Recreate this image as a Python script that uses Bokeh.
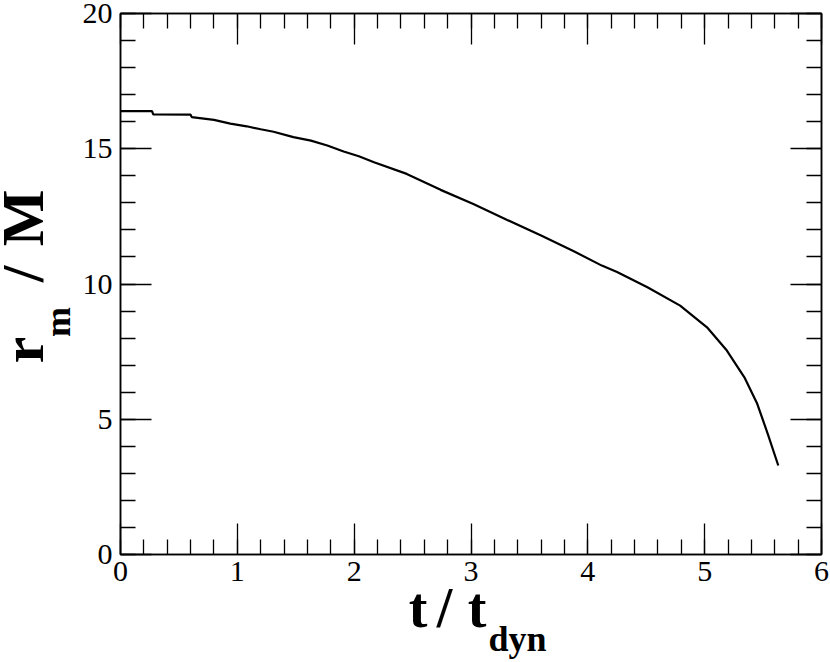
import math
from bokeh.plotting import figure
from bokeh.models import (Range1d, LinearAxis, SingleIntervalTicker, FixedTicker,
                          CustomJSTickFormatter)
from bokeh.embed import file_html
from bokeh.resources import INLINE

# data
t_vals = [0.00, 0.27, 0.28, 0.60, 0.61, 0.80, 0.94, 1.08, 1.20, 1.31, 1.48, 1.63,
          1.77, 1.91, 2.04, 2.17, 2.45, 2.74, 3.02, 3.31, 3.60, 3.88, 4.12, 4.25,
          4.51, 4.79, 5.02, 5.19, 5.34, 5.45, 5.54, 5.63]
r_vals = [16.39, 16.39, 16.27, 16.26, 16.17, 16.07, 15.93, 15.83, 15.72, 15.63, 15.43, 15.30,
          15.12, 14.90, 14.72, 14.50, 14.07, 13.48, 12.96, 12.37, 11.79, 11.21, 10.68, 10.44,
          9.88, 9.20, 8.40, 7.54, 6.55, 5.57, 4.46, 3.29]
x_ticks_interval = 1
y_ticks_interval = 5

SHIFT_X = 16
SHIFT_Y = 6
p = figure(width=830 + SHIFT_X, height=662 + SHIFT_Y, output_backend="svg", toolbar_location=None,
           x_range=Range1d(0, 6), y_range=Range1d(0, 20),
           x_axis_type=None, y_axis_type=None,
           min_border_left=120 + SHIFT_X, min_border_right=9,
           min_border_top=13 + SHIFT_Y, min_border_bottom=108)
p.styles = {"margin-left": f"-{SHIFT_X}px", "margin-top": f"-{SHIFT_Y}px"}
p.xgrid.visible = False
p.ygrid.visible = False
p.outline_line_color = "black"
p.outline_line_width = 1.5
p.background_fill_color = "white"
p.border_fill_color = "white"

TICK_FONT = "Liberation Serif"
LABEL_FONT = "Liberation Serif"

def make_axis(ticker, show_labels):
    ax = LinearAxis(ticker=ticker)
    ax.axis_line_color = "black"
    ax.axis_line_width = 1.5
    ax.major_tick_in = 31
    ax.major_tick_out = 0
    ax.minor_tick_in = 15
    ax.minor_tick_out = 0
    ax.major_tick_line_width = 1.3
    ax.minor_tick_line_width = 1.3
    ax.major_tick_line_color = "black"
    ax.minor_tick_line_color = "black"
    if show_labels:
        ax.major_label_text_font = TICK_FONT
        ax.major_label_text_font_size = "30px"
        ax.major_label_text_color = "black"
    else:
        ax.formatter = CustomJSTickFormatter(code="return ''")
        ax.major_label_standoff = 0
    return ax

def label_axis(pieces, size, standoff, orientation="horizontal"):
    """An axis with no line or ticks whose tick labels spell an axis title."""
    ticks = [pos for pos, _ in pieces]
    ax = LinearAxis(ticker=FixedTicker(ticks=ticks, minor_ticks=[]))
    ax.major_label_overrides = {pos: txt for pos, txt in pieces}
    ax.axis_line_color = None
    ax.major_tick_line_color = None
    ax.minor_tick_line_color = None
    ax.major_tick_in = 0
    ax.major_tick_out = 0
    ax.minor_tick_in = 0
    ax.minor_tick_out = 0
    ax.major_label_text_font = LABEL_FONT
    ax.major_label_text_font_style = "bold"
    ax.major_label_text_font_size = size
    ax.major_label_text_color = "black"
    ax.major_label_standoff = standoff
    ax.major_label_orientation = orientation
    return ax

xt = lambda: SingleIntervalTicker(interval=x_ticks_interval, num_minor_ticks=5)
yt = lambda: SingleIntervalTicker(interval=y_ticks_interval, num_minor_ticks=5)

bx = make_axis(xt(), True)
bx.major_label_standoff = 7
ly = make_axis(yt(), True)
ly.major_label_standoff = 8
p.add_layout(bx, "below")
p.add_layout(ly, "left")
p.add_layout(make_axis(xt(), False), "above")
p.add_layout(make_axis(yt(), False), "right")

# x axis title: t / t_dyn
p.add_layout(label_axis([(2.546, "t"), (2.773, "/"), (3.051, "t")], "56px", -7), "below")
p.add_layout(label_axis([(3.398, "dyn")], "36px", -23), "below")
# y axis title: r_m / M
p.add_layout(label_axis([(7.56, "r"), (10.37, "/"), (12.44, "M")], "60px", 23, "vertical"), "left")
p.add_layout(label_axis([(8.595, "m")], "36px", -91, "vertical"), "left")

p.line(t_vals, r_vals, line_color="black", line_width=2.2)

open("out.html", "w").write(file_html(p, INLINE))
